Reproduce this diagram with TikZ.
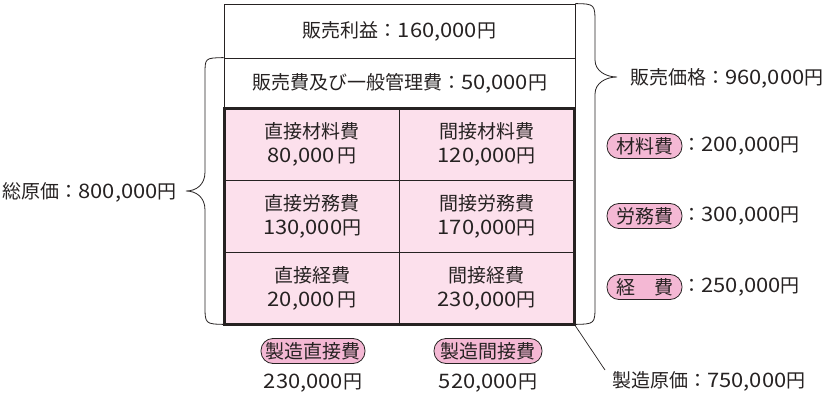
\documentclass[tikz,border=0pt]{standalone}
\usepackage{fontspec}
\setmainfont{Noto Sans CJK JP}
\newfontfamily\numfont{Noto Sans CJK JP}[FakeStretch=1.1,Scale=1.05]
\newcommand\nm[1]{{\numfont #1}}
\definecolor{ink}{RGB}{38,34,34}
\definecolor{cellpink}{RGB}{252,224,236}
\definecolor{pillpink}{RGB}{244,184,212}
\begin{document}
\begin{tikzpicture}[x=1pt,y=-1pt,
  font=\fontsize{19}{24}\selectfont, text=ink,
  box/.style={draw=ink, line width=0.8pt, minimum width=351pt, inner sep=0pt},
  cell/.style={draw=ink, line width=0.8pt, fill=cellpink, inner sep=0pt, align=center,
               minimum width=174.5pt, minimum height=71.67pt},
  pill/.style={draw=ink, line width=0.8pt, fill=pillpink, rounded corners=12pt,
               minimum height=25pt, inner xsep=0pt, inner ysep=0pt},
  brace/.style={draw=ink, line width=0.8pt},
  lbl/.style={inner sep=0pt}]
\useasboundingbox (0,0) rectangle (834,398);

% top boxes
\node[box, minimum height=54pt] (profit) at (399.5,31) {販売利益：\nm{160,000}円};
\node[box, minimum height=50pt] (sga) at (399.5,83) {販売費及び一般管理費：\nm{50,000}円};

% grid cells
\node[cell] (c11) at (312.25,144.83) {直接材料費\\\nm{80,000}\,円};
\node[cell] (c12) at (486.75,144.83) {間接材料費\\\nm{120,000}円};
\node[cell] (c21) at (312.25,216.5) {直接労務費\\\nm{130,000}円};
\node[cell] (c22) at (486.75,216.5) {間接労務費\\\nm{170,000}円};
\node[cell] (c31) at (312.25,288.17) {直接経費\\\nm{20,000}\,円};
\node[cell] (c32) at (486.75,288.17) {間接経費\\\nm{230,000}円};
\draw[ink, line width=2.6pt] (c11.north west) rectangle (c32.south east);

% left brace
\draw[brace] (sga.north west) .. controls (205,58) .. (205,74) -- (205,172)
  .. controls (205,185) and (196,191) .. (186,191)
  .. controls (196,191) and (205,197) .. (205,210) -- (205,305)
  .. controls (205,324) .. (c31.south west);
\node[lbl, anchor=east] (total) at (177,192) {総原価：\nm{800,000}円};

% right brace
\draw[brace] (profit.north east) .. controls (595,4) .. (595,24) -- (595,60)
  .. controls (595,71) and (606,77) .. (617,77)
  .. controls (606,77) and (595,83) .. (595,94) -- (595,305)
  .. controls (595,324) .. (c32.south east);
\node[lbl, anchor=west] (price) at (630,78) {販売価格：\nm{960,000}円};

% right-side categories
\node[pill, minimum width=75pt] (m1) at (644.5,146) {材料費};
\node[lbl, anchor=west] (v1) at (m1.east) {：\nm{200,000}円};
\node[pill, minimum width=75pt] (m2) at (644.5,216) {労務費};
\node[lbl, anchor=west] (v2) at (m2.east) {：\nm{300,000}円};
\node[pill, minimum width=75pt] (m3) at (644.5,287) {経　費};
\node[lbl, anchor=west] (v3) at (m3.east) {：\nm{250,000}円};

% bottom
\node[pill, minimum width=104pt] (d) at (313,351) {製造直接費};
\node[lbl] (dv) at (313,383) {\nm{230,000}円};
\node[pill, minimum width=108pt] (id) at (488,351) {製造間接費};
\node[lbl] (idv) at (488,383) {\nm{520,000}円};

\node[lbl, anchor=west] (mfg) at (612,381) {製造原価：\nm{750,000}円};
\coordinate (mfgtip) at (605,370);
\draw[ink, line width=0.7pt] (c32.south east) -- (mfgtip);
\end{tikzpicture}
\end{document}
